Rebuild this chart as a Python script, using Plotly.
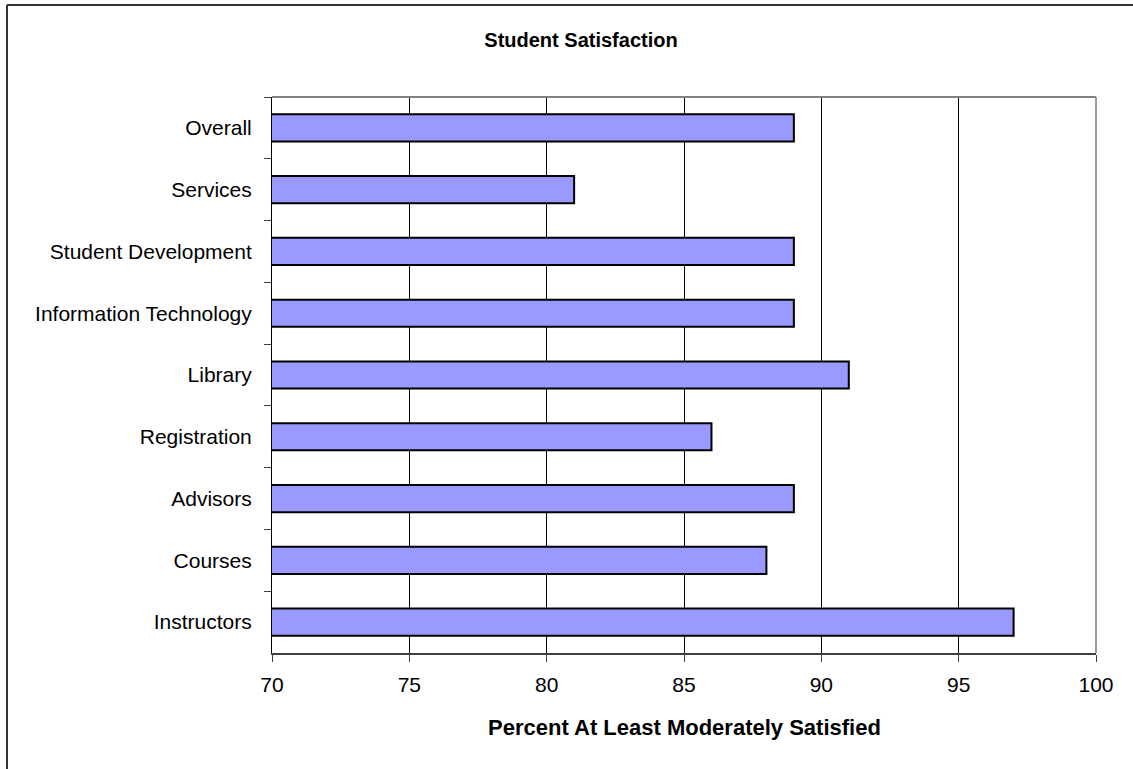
import plotly.graph_objects as go

# Satisfaction areas, listed top to bottom as displayed
areas = [
    "Overall",
    "Services",
    "Student Development",
    "Information Technology",
    "Library",
    "Registration",
    "Advisors",
    "Courses",
    "Instructors",
]
pct_satisfied = [89, 81, 89, 89, 91, 86, 89, 88, 97]

x_ticks = [70, 75, 80, 85, 90, 95, 100]

W, H = 1133, 769
L, R, T, B = 272, 37, 97, 116
plot_w = W - L - R
plot_h = H - T - B

font_family = "Liberation Sans, Arial, sans-serif"

fig = go.Figure(
    go.Bar(
        x=pct_satisfied,
        y=areas,
        orientation="h",
        marker=dict(color="#9999FF", line=dict(color="#000000", width=2)),
        hoverinfo="x+y",
    )
)

def px_to_paper_x(px):
    return (px - L) / plot_w

def px_to_paper_y(py):
    return (H - B - py) / plot_h

shapes = [
    # plot area frame (top and right edges)
    dict(type="line", xref="paper", yref="paper", x0=0, x1=1, y0=1, y1=1,
         line=dict(color="#808080", width=2), layer="above"),
    dict(type="line", xref="paper", yref="paper", x0=1, x1=1, y0=0, y1=1,
         line=dict(color="#9a9a9a", width=2), layer="above"),
    # outer chart frame
    dict(type="line", xref="paper", yref="paper",
         x0=px_to_paper_x(7), x1=px_to_paper_x(W + 10),
         y0=px_to_paper_y(5), y1=px_to_paper_y(5),
         line=dict(color="#333333", width=2), layer="above"),
    dict(type="line", xref="paper", yref="paper",
         x0=px_to_paper_x(7), x1=px_to_paper_x(7),
         y0=px_to_paper_y(5), y1=px_to_paper_y(H + 10),
         line=dict(color="#333333", width=2), layer="above"),
]

fig.update_layout(
    width=W,
    height=H,
    margin=dict(l=L, r=R, t=T, b=B, pad=0),
    paper_bgcolor="#FFFFFF",
    plot_bgcolor="#FFFFFF",
    font=dict(family=font_family, size=21, color="#000000"),
    bargap=0.56,
    showlegend=False,
    title=dict(
        text="<b>Student Satisfaction</b>",
        x=581 / W,
        xanchor="center",
        y=1 - 40 / H,
        yanchor="middle",
        font=dict(family=font_family, size=20, color="#000000"),
    ),
    xaxis=dict(
        range=[70, 100],
        tickvals=x_ticks,
        ticktext=[str(v) for v in x_ticks],
        showgrid=True,
        gridcolor="#000000",
        gridwidth=1,
        zeroline=False,
        showline=True,
        linecolor="#404040",
        linewidth=2,
        ticks="outside",
        ticklen=7,
        tickwidth=1,
        tickcolor="#404040",
        ticklabelstandoff=5,
        tickfont=dict(size=21),
        fixedrange=True,
    ),
    yaxis=dict(
        autorange="reversed",
        type="category",
        showgrid=False,
        zeroline=False,
        showline=True,
        linecolor="#000000",
        linewidth=1,
        ticks="outside",
        tickson="boundaries",
        ticklen=7,
        tickwidth=1,
        tickcolor="#404040",
        ticklabelstandoff=15,
        tickfont=dict(size=21),
        fixedrange=True,
    ),
    shapes=shapes,
    annotations=[
        dict(
            text="<b>Percent At Least Moderately Satisfied</b>",
            xref="paper",
            yref="paper",
            x=0.5,
            y=px_to_paper_y(727),
            xanchor="center",
            yanchor="middle",
            showarrow=False,
            font=dict(family=font_family, size=22, color="#000000"),
        )
    ],
)

fig.write_html("out.html")
